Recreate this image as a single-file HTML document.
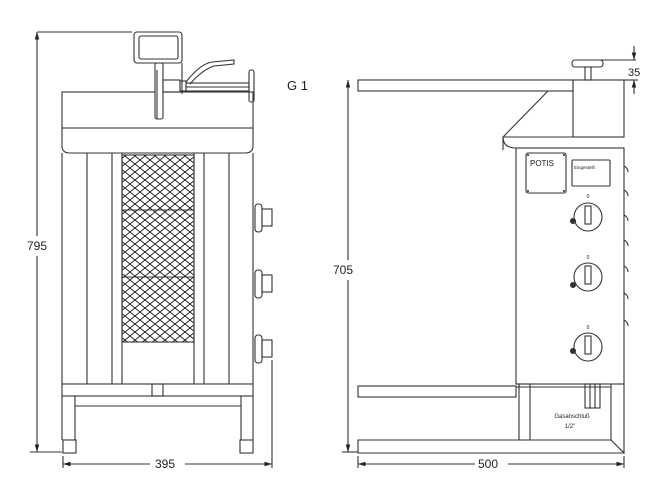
<!DOCTYPE html>
<html><head><style>html,body{margin:0;padding:0;background:#fff}svg{display:block}</style></head><body>
<svg width="654" height="500" viewBox="0 0 654 500" xmlns="http://www.w3.org/2000/svg" font-family="Liberation Sans, sans-serif">
<defs>
<pattern id="mesh" width="10" height="8" patternUnits="userSpaceOnUse">
<path d="M0 0L5 4L10 0M0 8L5 4L10 8" stroke="#222" stroke-width="0.9" fill="none"/>
</pattern>
<marker id="ar" viewBox="0 0 10 10" refX="10" refY="5" markerWidth="7" markerHeight="7" orient="auto-start-reverse"><path d="M0 2L10 5L0 8z" fill="#222"/></marker>
</defs>
<g stroke="#333" stroke-width="1.1" fill="none">
<!-- LEFT VIEW -->
<line x1="37" y1="236" x2="37" y2="32" marker-end="url(#ar)"/>
<line x1="37" y1="256" x2="37" y2="452" marker-end="url(#ar)"/>
<line x1="37" y1="32" x2="132" y2="32"/>
<line x1="30" y1="452" x2="62" y2="452"/>
<rect x="134" y="32" width="48" height="31" rx="3" fill="#fff"/>
<rect x="139" y="36" width="39" height="23" rx="2"/>
<rect x="62" y="92" width="191" height="36"/>
<path d="M62 128V146Q62 153 70 153H245Q253 153 253 146V128"/>
<rect x="155" y="63" width="8" height="56" rx="2" fill="#fff"/>
<line x1="157" y1="70" x2="157" y2="119"/>
<rect x="163" y="80" width="17" height="12"/>
<rect x="180" y="81" width="6" height="10"/>
<rect x="186" y="83" width="63" height="8"/>
<line x1="186" y1="87" x2="249" y2="87"/>
<rect x="249" y="70" width="5" height="32" rx="2"/>
<path d="M186 82Q200 64 212 62L234 60V64L214 66Q202 70 190 84"/>
<line x1="182" y1="63" x2="182" y2="94"/>
<line x1="62" y1="153" x2="62" y2="384"/>
<line x1="253" y1="153" x2="253" y2="384"/>
<line x1="87" y1="153" x2="87" y2="384"/>
<line x1="112" y1="153" x2="112" y2="384"/>
<line x1="122" y1="153" x2="122" y2="384"/>
<line x1="194" y1="153" x2="194" y2="384"/>
<line x1="204" y1="153" x2="204" y2="384"/>
<line x1="229" y1="153" x2="229" y2="384"/>
<rect x="122" y="155" width="72" height="187" fill="url(#mesh)"/>
<line x1="122" y1="210" x2="194" y2="210"/>
<line x1="122" y1="277" x2="194" y2="277"/>
<line x1="122" y1="342" x2="194" y2="342"/>
<rect x="62" y="384" width="191" height="12"/>
<path d="M75 440V406H241V440"/>
<line x1="62" y1="396" x2="62" y2="440"/><line x1="253" y1="396" x2="253" y2="440"/>
<line x1="75" y1="396" x2="75" y2="406"/><line x1="241" y1="396" x2="241" y2="406"/>
<rect x="152" y="384" width="11" height="12"/>
<rect x="63" y="440" width="13" height="13"/>
<rect x="240" y="440" width="13" height="13"/>
<g>
<rect x="255" y="204" width="7" height="28" rx="3"/><rect x="262" y="209" width="10" height="17"/>
<rect x="255" y="270" width="7" height="28" rx="3"/><rect x="262" y="275" width="10" height="17"/>
<rect x="255" y="335" width="7" height="28" rx="3"/><rect x="262" y="340" width="10" height="17"/>
</g>
<line x1="63" y1="456" x2="63" y2="468"/><line x1="272" y1="360" x2="272" y2="468"/>
<line x1="63" y1="464" x2="150" y2="464" marker-start="url(#ar)"/>
<line x1="185" y1="464" x2="272" y2="464" marker-end="url(#ar)"/>

<!-- RIGHT VIEW -->
<line x1="348" y1="260" x2="348" y2="80" marker-end="url(#ar)"/>
<line x1="348" y1="280" x2="348" y2="452" marker-end="url(#ar)"/>
<line x1="342" y1="452" x2="358" y2="452"/>
<rect x="358" y="80" width="215" height="11"/>
<rect x="573" y="80" width="51" height="57"/>
<rect x="572" y="60" width="31" height="7" rx="3"/>
<rect x="585" y="67" width="6" height="13"/>
<line x1="548" y1="91" x2="503" y2="137"/>
<path d="M503 137H624M503 137Q503 148 516 148"/>
<line x1="503" y1="137" x2="503" y2="150"/>
<rect x="516" y="148" width="108" height="236"/>
<rect x="526" y="153" width="40" height="40" rx="2"/>
<rect x="572" y="160" width="38" height="26" rx="1"/>
<g>
<circle cx="588" cy="217" r="14"/><rect x="585" y="206" width="6" height="18"/>
<circle cx="588" cy="277" r="14"/><rect x="585" y="266" width="6" height="18"/>
<circle cx="588" cy="347" r="14"/><rect x="585" y="336" width="6" height="18"/>
</g>
<g fill="#333"><circle cx="573" cy="221" r="2.5"/><circle cx="573" cy="285" r="2.5"/><circle cx="573" cy="351" r="2.5"/></g>
<path d="M624 166Q628 168 628 172M624 190Q628 192 628 196M624 215Q628 217 628 221M624 240Q628 242 628 246M624 266Q628 268 628 272M624 293Q628 295 628 299M624 320Q628 322 628 326"/>
<rect x="358" y="386" width="158" height="11"/>
<line x1="516" y1="387" x2="611" y2="387"/>
<rect x="519" y="384" width="11" height="56"/>
<line x1="611" y1="384" x2="611" y2="440"/>
<line x1="624" y1="384" x2="624" y2="453"/>
<rect x="585" y="384" width="15" height="24"/>
<line x1="590" y1="384" x2="590" y2="408"/><line x1="595" y1="384" x2="595" y2="408"/>
<path d="M358 440H611L624 453H358Z"/>
<line x1="598" y1="60" x2="636" y2="60"/>
<line x1="634" y1="46" x2="634" y2="60" marker-end="url(#ar)"/>
<line x1="634" y1="94" x2="634" y2="80" marker-end="url(#ar)"/>
<line x1="624" y1="80" x2="638" y2="80"/>
<line x1="358" y1="456" x2="358" y2="468"/><line x1="624" y1="456" x2="624" y2="468"/>
<line x1="358" y1="464" x2="475" y2="464" marker-start="url(#ar)"/>
<line x1="508" y1="464" x2="624" y2="464" marker-end="url(#ar)"/>
</g>
<g fill="#222" stroke="none">
<circle cx="528" cy="155" r="1"/><circle cx="564" cy="155" r="1"/><circle cx="528" cy="191" r="1"/><circle cx="564" cy="191" r="1"/>
<text x="27" y="250" font-size="12">795</text>
<text x="155" y="468" font-size="12">395</text>
<text x="287" y="90" font-size="13">G 1</text>
<text x="333" y="274" font-size="12">705</text>
<text x="478" y="468" font-size="12">500</text>
<text x="628" y="76" font-size="11">35</text>
<text x="530" y="166" font-size="8">POTIS</text>
<text x="574" y="169" font-size="4.5">Eingestellt</text>
<text x="572" y="418" font-size="6" text-anchor="middle">Gasanschluß</text>
<text x="570" y="428" font-size="6" text-anchor="middle">1/2"</text>
<text x="588" y="198" font-size="5" text-anchor="middle">0</text>
<text x="588" y="259" font-size="5" text-anchor="middle">0</text>
<text x="588" y="329" font-size="5" text-anchor="middle">0</text>
</g>
</svg>
</body></html>
